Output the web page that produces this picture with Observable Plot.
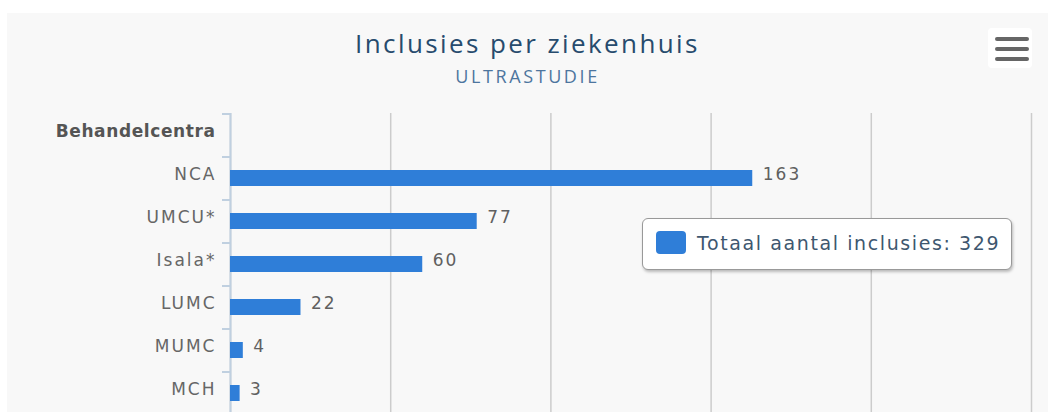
<!DOCTYPE html>
<html><head><meta charset="utf-8">
<script src="https://cdn.jsdelivr.net/npm/d3@7"></script>
<script src="https://cdn.jsdelivr.net/npm/@observablehq/plot@0.6"></script>
<style>
html,body{margin:0;padding:0;background:#fff;width:1048px;height:412px;overflow:hidden;}
#panel{position:absolute;left:7px;top:13px;width:1041px;height:399px;background:#f8f8f8;overflow:hidden;}
#title{position:absolute;left:0;width:100%;text-align:center;top:15px;font-family:"Open Sans",sans-serif;font-size:26px;line-height:30px;letter-spacing:2.4px;color:#274b6d;}
#subtitle{position:absolute;left:0;width:100%;text-align:center;top:53px;font-family:"Open Sans",sans-serif;font-size:18px;line-height:20px;letter-spacing:2.6px;color:#4d759e;}
#chart{position:absolute;left:0;top:80px;}
#chart svg{overflow:visible;}
#legend{position:absolute;left:635px;top:205px;width:368px;height:50px;background:#fff;border:1px solid #999;border-radius:6px;box-shadow:1px 2px 3px rgba(0,0,0,0.25);}
#legend .sw{position:absolute;left:13px;top:12px;width:30px;height:23px;border-radius:4px;}
#legend .lt{position:absolute;left:54px;top:12px;font-family:"DejaVu Sans",sans-serif;font-size:19px;line-height:24px;letter-spacing:1.6px;color:#3e576f;white-space:nowrap;}
#menu{position:absolute;left:981px;top:15px;width:44px;height:40px;background:#fff;border-radius:4px;}
#menu span{position:absolute;left:7px;width:34px;height:4px;border-radius:2px;background:#666;}
</style>
</head><body>
<div id="panel">
  <div id="title"></div>
  <div id="subtitle"></div>
  <div id="chart"></div>
  <div id="legend"><div class="sw"></div><div class="lt"></div></div>
  <div id="menu"><span style="top:9px"></span><span style="top:19px"></span><span style="top:29px"></span></div>
</div>
<script>
const chartTitle = "Inclusies per ziekenhuis";
const chartSubtitle = "ULTRASTUDIE";
const headerLabel = "Behandelcentra";
const hospitals = ["NCA", "UMCU*", "Isala*", "LUMC", "MUMC", "MCH"];
const inclusions = [163, 77, 60, 22, 4, 3];
const seriesName = "Totaal aantal inclusies";
const xTicks = [0, 50, 100, 150, 200, 250];
const barColor = "#2f7ed8";

const categories = [headerLabel, ...hospitals];
const data = hospitals.map((name, i) => ({name, value: inclusions[i]}));

document.getElementById("title").textContent = chartTitle;
document.getElementById("subtitle").textContent = chartSubtitle;
document.querySelector("#legend .sw").style.background = barColor;
document.querySelector("#legend .lt").textContent = `${seriesName}: ${d3.sum(inclusions)}`;

const W = 1041, H = 351, mT = 20, mB = 30, mL = 223, mR = 17;
const step = (H - mT - mB) / categories.length;

const plot = Plot.plot({
  width: W, height: H,
  marginTop: mT, marginBottom: mB, marginLeft: mL, marginRight: mR,
  style: {background: "transparent", fontFamily: "DejaVu Sans", letterSpacing: "2px"},
  x: {domain: [xTicks[0], xTicks[xTicks.length - 1]], axis: null},
  y: {domain: categories, paddingInner: 0.63, paddingOuter: 0.315, axis: null},
  marks: [
    Plot.gridX(xTicks, {stroke: "#cccccc", strokeOpacity: 1, strokeWidth: 1.5}),
    Plot.ruleX([xTicks[0]], {stroke: "#c0d0e0", strokeWidth: 2}),
    Plot.axisY(categories, {tickSize: 8, tickFormat: () => "", dy: -step / 2, stroke: "#c0d0e0", strokeWidth: 2, strokeOpacity: 1, label: null}),
    Plot.axisY(hospitals, {tickSize: 0, tickPadding: 14, dy: -4, fontSize: 17, fill: "#666", label: null}),
    Plot.axisY([headerLabel], {tickSize: 0, tickPadding: 15, dy: -4, fontSize: 17, fontWeight: "bold", fill: "#555", label: null}),
    Plot.barX(data, {x: "value", y: "name", fill: barColor}),
    Plot.text(data, {x: "value", y: "name", text: d => String(d.value), textAnchor: "start", dx: 10, dy: -4, fontSize: 17, fill: "#606060"})
  ]
});
document.getElementById("chart").appendChild(plot);
// header label with tighter spacing
const labelGroups = plot.querySelectorAll('g[aria-label="y-axis tick label"]');
if (labelGroups.length) labelGroups[labelGroups.length - 1].style.letterSpacing = "0.6px";
</script>
</body></html>
